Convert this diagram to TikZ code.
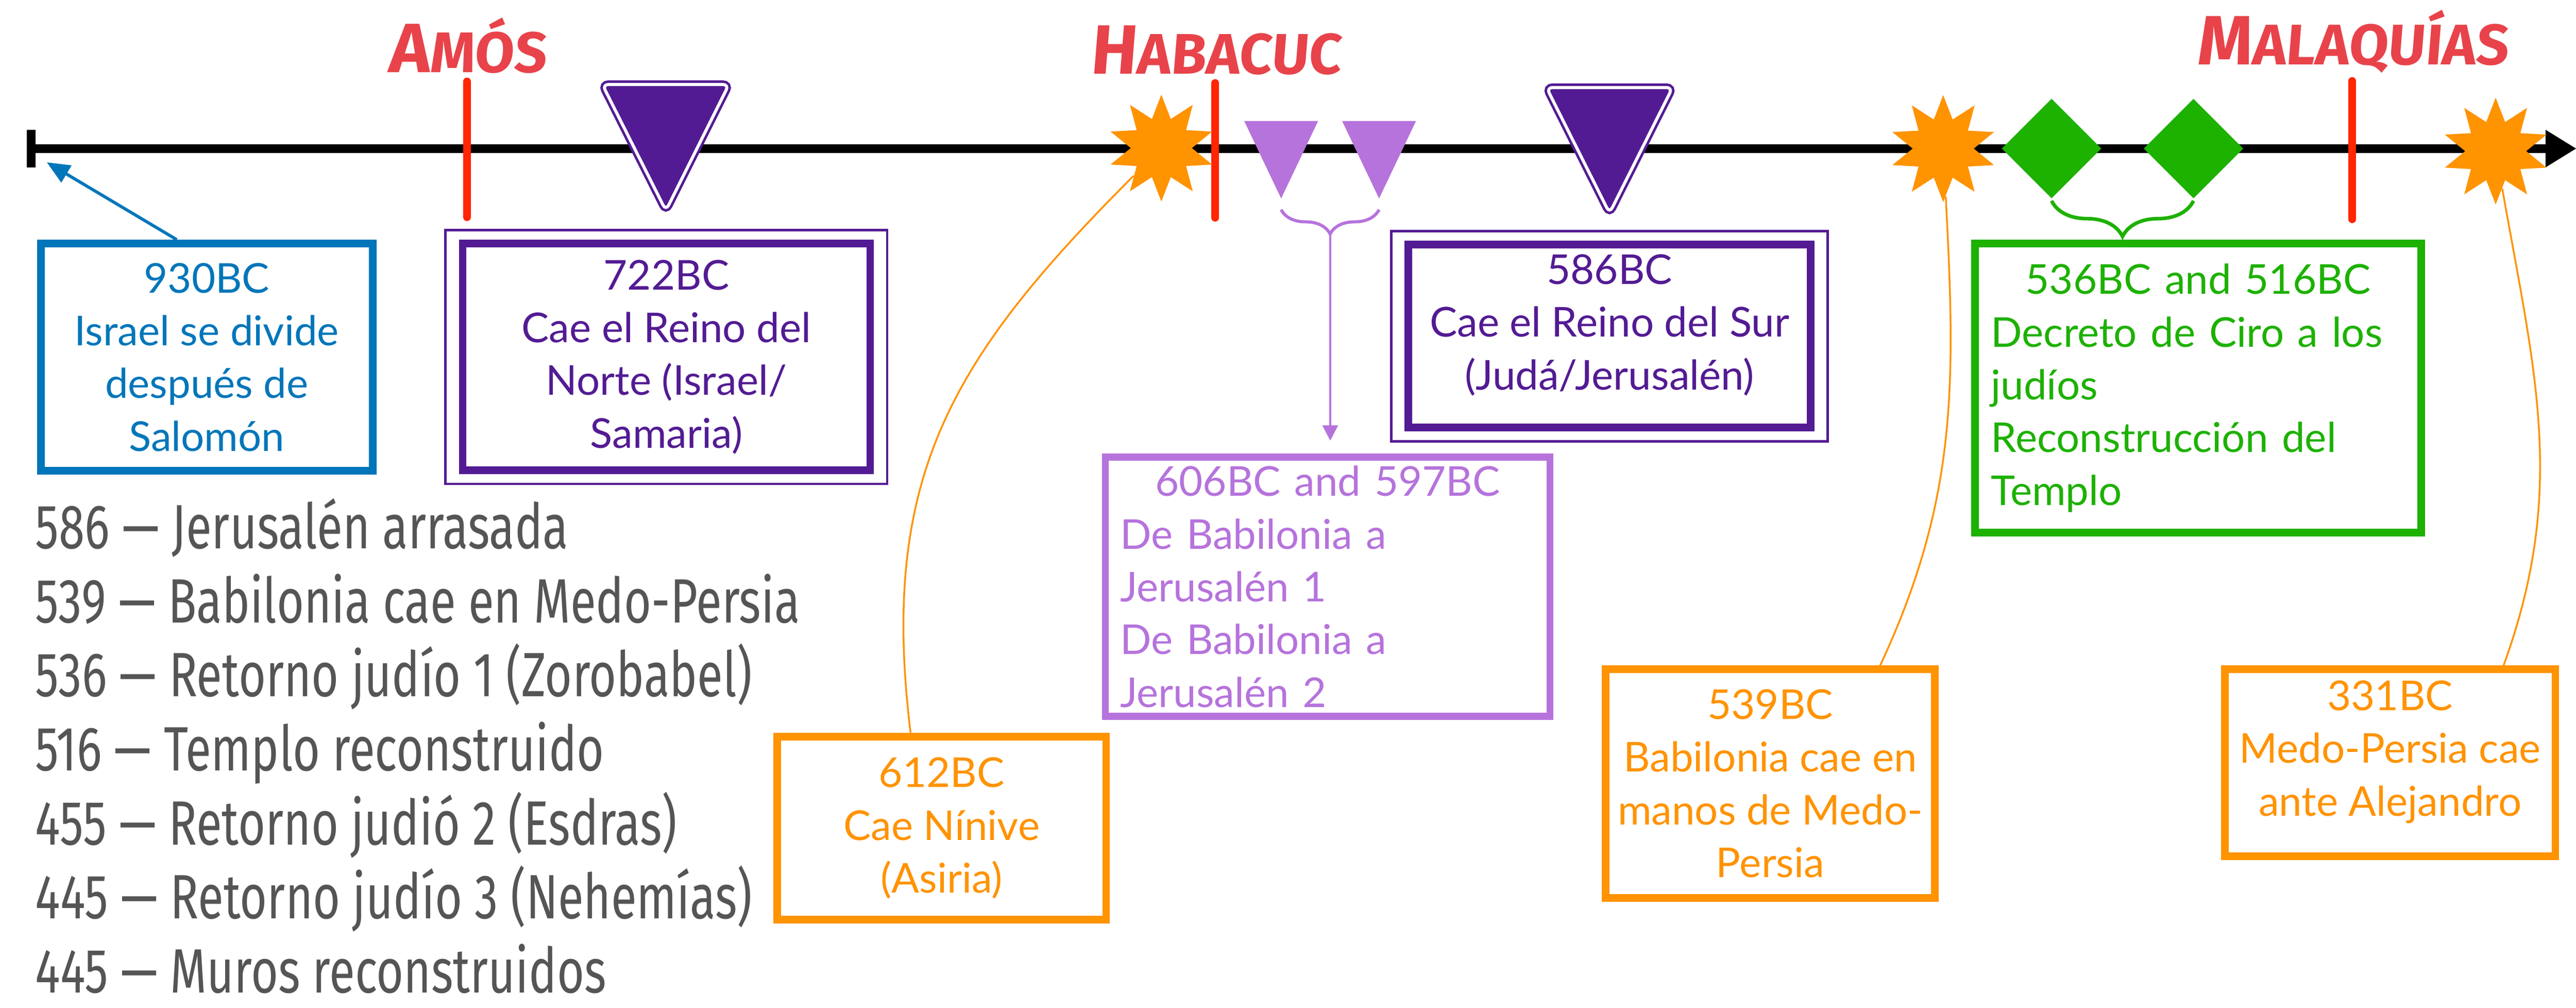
\documentclass[tikz,border=0pt]{standalone}
\usepackage{fontspec}
\setmainfont{Lato}
\newfontfamily\listfont{Fira Sans}[FakeStretch=0.75]
\newfontfamily\namefont{Fira Sans}[FakeSlant=0.08]
\usetikzlibrary{positioning,arrows.meta,shapes.geometric,shapes.symbols,decorations.pathreplacing}

\definecolor{grape}{HTML}{531B93}
\definecolor{lavender}{HTML}{B673DC}
\definecolor{ocean}{HTML}{0076BA}
\definecolor{tangerine}{HTML}{FF9300}
\definecolor{clover}{HTML}{1DB100}
\definecolor{maraschino}{HTML}{FF2600}
\definecolor{namered}{HTML}{E8434A}
\definecolor{listgray}{HTML}{555555}

\def\prophet#1#2{{\fontsize{39}{39}\selectfont #1}{\fontsize{32}{32}\selectfont #2}}
\def\frameit#1{\draw[grape, line width=0.05cm] ([shift={(-0.26,0.19)}]#1.north west) rectangle ([shift={(0.26,-0.19)}]#1.south east);}

\tikzset{
	box/.style={draw, line width=0.15cm, align=center, inner sep=0pt, font=\fontsize{23}{29.5}\selectfont},
	redtick/.style={maraschino, line width=0.15cm, line cap=round},
	prophet/.style={namered, inner sep=0pt, font=\namefont\bfseries},
	burst/.style={star, star points=10, star point ratio=1.75, fill=tangerine, inner sep=0pt, minimum size=2.1cm},
	gem/.style={diamond, fill=clover, inner sep=0pt, minimum size=1.96cm},
	listline/.style={listgray, anchor=base west, inner sep=0pt, font=\listfont\fontsize{35}{35}\selectfont},
	orangecurve/.style={tangerine, line width=0.035cm}
}

\begin{document}
\begin{tikzpicture}
		%%%%% START %%%%%
		\useasboundingbox[fill=white] (0,0) rectangle (50.64,-19.81);
		
		\coordinate (tlstart) at (0.53,-2.92);
		\coordinate (tlend) at (50.64,-2.92);
		\draw[line width=0.17cm, {Bar[width=0.74cm]}-{Triangle[length=0.6cm,width=0.74cm,line width=0pt]}] (tlstart) -- (tlend);
		
		% prophets
		\coordinate (amos) at (9.18,-1.60);
		\coordinate (habacuc) at (23.89,-1.63);
		\coordinate (malaquias) at (46.24,-1.59);
		\draw[redtick] (amos) -- ++(0,-2.67);
		\draw[redtick] (habacuc) -- ++(0,-2.65);
		\draw[redtick] (malaquias) -- ++(0,-2.72);
		\node[prophet, above=0.15cm of amos] (amosname) {\prophet{A}{MÓS}};
		\node[prophet, above=0.15cm of habacuc] (habacucname) {\prophet{H}{ABACUC}};
		\node[prophet, above=0.15cm of malaquias] (malaquiasname) {\prophet{M}{ALAQUÍAS}};
		
		% markers
		\draw[grape, fill=grape, line width=0.05cm, double=white, double distance=0.06cm, rounded corners=0.12cm] (11.84,-1.66) -- (14.33,-1.66) -- (13.09,-4.14) -- cycle;
		\draw[grape, fill=grape, line width=0.05cm, double=white, double distance=0.06cm, rounded corners=0.12cm] (30.40,-1.72) -- (32.88,-1.72) -- (31.64,-4.19) -- cycle;
		
		\coordinate (tri606) at (25.185,-3.90);
		\coordinate (tri597) at (27.11,-3.90);
		\fill[lavender] (tri606) -- ++(-0.725,1.52) -- ++(1.45,0) -- cycle;
		\fill[lavender] (tri597) -- ++(-0.725,1.52) -- ++(1.45,0) -- cycle;
		
		\node[burst] (star612) at (22.83,-2.91) {};
		\node[burst] (star539) at (38.20,-2.92) {};
		\node[burst] (star331) at (49.06,-2.97) {};
		
		\node[gem] (dia536) at (40.33,-2.92) {};
		\node[gem] (dia516) at (43.12,-2.92) {};
		
		% boxes
		\node[box, draw=ocean, text=ocean, minimum width=6.52cm, minimum height=4.47cm] (box930) at (4.065,-7.02) {930BC\\Israel se divide\\después de\\Salomón};
		\node[box, draw=grape, text=grape, minimum width=8.01cm, minimum height=4.46cm] (box722) at (13.10,-7.015) {722BC\\Cae el Reino del\\Norte (Israel/\\Samaria)};
		\node[box, draw=grape, text=grape, text depth=0.55cm, minimum width=7.91cm, minimum height=3.60cm] (box586) at (31.64,-6.605) {586BC\\Cae el Reino del Sur\\(Judá/Jerusalén)};
		\frameit{box722}
		\frameit{box586}
		
		\node[box, draw=lavender, text=lavender, line width=0.14cm, text width=8.16cm, align=left, minimum width=8.74cm, minimum height=5.10cm] (box606) at (26.10,-11.53) {\makebox[8.16cm]{606BC and 597BC}\\De Babilonia a\\Jerusalén 1\\De Babilonia a\\Jerusalén 2};
		\node[box, draw=clover, text=clover, text width=8.14cm, align=left, minimum width=8.77cm, minimum height=5.68cm] (box536) at (43.21,-7.625) {\makebox[8.14cm]{536BC and 516BC}\\Decreto de Ciro a los\\judíos\\Reconstrucción del\\Templo};
		
		\node[box, draw=tangerine, text=tangerine, minimum width=6.47cm, minimum height=3.60cm] (box612) at (18.51,-16.275) {612BC\\Cae Nínive\\(Asiria)};
		\node[box, draw=tangerine, text=tangerine, minimum width=6.47cm, minimum height=4.49cm] (box539) at (34.80,-15.40) {539BC\\Babilonia cae en\\manos de Medo-\\Persia};
		\node[box, draw=tangerine, text=tangerine, text depth=0.57cm, minimum width=6.50cm, minimum height=3.67cm] (box331) at (46.985,-14.99) {331BC\\Medo-Persia cae\\ante Alejandro};
		
		% connectors
		\coordinate (divide) at (0.92,-3.19);
		\draw[ocean, line width=0.06cm, -{Triangle[length=0.45cm,width=0.38cm]}] ([xshift=-0.59cm]box930.north) -- (divide);
		
		\draw[lavender, line width=0.06cm, decorate, decoration={brace, amplitude=0.48cm}] ([yshift=-0.22cm]tri597) -- ([yshift=-0.22cm]tri606);
		\coordinate (lpbrace) at (26.15,-4.62);
		\draw[lavender, line width=0.04cm, shorten >=0.25cm, -{Triangle[length=0.3cm,width=0.3cm]}] (lpbrace) -- (lpbrace |- box606.north);
		
		\draw[clover, line width=0.07cm, decorate, decoration={brace, amplitude=0.7cm}] ([yshift=-0.04cm]dia516.south) -- ([yshift=-0.04cm]dia536.south);
		
		\draw[orangecurve] (star612) to[out=-135, in=97, looseness=1.1] ([xshift=-0.61cm]box612.north);
		\draw[orangecurve] (star539) to[out=-87, in=65] ([xshift=2.16cm]box539.north);
		\draw[orangecurve] (star331) to[out=-80, in=70] ([xshift=2.23cm]box331.north);
		
		% dates
		\node[listline] (ev586) at (0.69,-10.78) {586 — Jerusalén arrasada};
		\node[listline] (ev539) at (0.69,-12.235) {539 — Babilonia cae en Medo-Persia};
		\node[listline] (ev536) at (0.69,-13.69) {536 — Retorno judío 1 (Zorobabel)};
		\node[listline] (ev516) at (0.69,-15.145) {516 — Templo reconstruido};
		\node[listline] (ev455) at (0.69,-16.60) {455 — Retorno judió 2 (Esdras)};
		\node[listline] (ev445) at (0.69,-18.055) {445 — Retorno judío 3 (Nehemías)};
		\node[listline] (ev445b) at (0.69,-19.51) {445 — Muros reconstruidos};
		
		%%%%% END %%%%%
\end{tikzpicture}
\end{document}
